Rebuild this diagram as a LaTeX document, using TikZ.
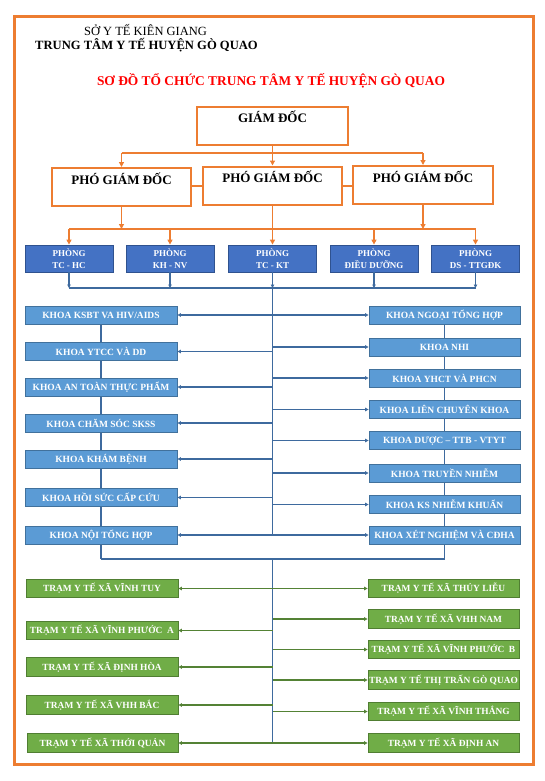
\documentclass[tikz,border=0pt]{standalone}
\usepackage{fontspec}
\setmainfont{Liberation Serif}
\usetikzlibrary{arrows.meta,backgrounds}
\definecolor{org}{HTML}{ED7D31}
\definecolor{phfill}{HTML}{4472C4}
\definecolor{phline}{HTML}{2F528F}
\definecolor{khfill}{HTML}{5B9BD5}
\definecolor{khline}{HTML}{41719C}
\definecolor{trfill}{HTML}{70AD47}
\definecolor{trline}{HTML}{507E32}
\definecolor{bl}{HTML}{3E6A9E}
\definecolor{gr}{HTML}{548235}
\definecolor{titlered}{HTML}{FF0000}
\begin{document}
\begin{tikzpicture}[x=1pt,y=-1pt,
  obox/.style={draw=org, line width=2pt, fill=white, font=\bfseries\fontsize{13}{15}\selectfont,
    inner xsep=0pt, inner ysep=0pt, text height=16pt, text depth=22pt, anchor=base},
  phbox/.style={draw=phline, line width=0.8pt, fill=phfill, text=white, align=center,
    font=\bfseries\fontsize{9}{12}\selectfont, inner sep=0pt, minimum width=88pt, minimum height=27pt},
  kbox/.style={draw=khline, line width=0.8pt, fill=khfill, text=white,
    font=\bfseries\fontsize{9.5}{11}\selectfont, inner sep=0pt, minimum height=18pt},
  kl/.style={kbox, minimum width=152pt},
  kr/.style={kbox, minimum width=151pt},
  tbox/.style={draw=trline, line width=0.8pt, fill=trfill, text=white,
    font=\bfseries\fontsize{9.4}{11}\selectfont, inner sep=0pt, minimum height=18.5pt},
  tl/.style={tbox, minimum width=152pt},
  tr/.style={tbox, minimum width=151pt},
  oline/.style={draw=org, line width=1.6pt},
  oarr/.style={oline, -{Triangle[length=5pt,width=5pt]}},
  bline/.style={draw=bl, line width=1.2pt},
  barr/.style={bline, -{Triangle[length=3.5pt,width=3.5pt]}},
  bdarr/.style={bline, {Triangle[length=3.5pt,width=3.5pt]}-{Triangle[length=3.5pt,width=3.5pt]}},
  garr/.style={draw=gr, line width=1.2pt, -{Triangle[length=3.5pt,width=3.5pt]}},
  gdarr/.style={draw=gr, line width=1.2pt, {Triangle[length=3.5pt,width=3.5pt]}-{Triangle[length=3.5pt,width=3.5pt]}},
]
\useasboundingbox (0,0) rectangle (545,781);
\draw[org, line width=3pt] (14,17) rectangle (533,764);

% header
\node[font=\fontsize{12.5}{14}\selectfont] (h1) at (145.5,30) {SỞ Y TẾ KIÊN GIANG};
\node[font=\bfseries\fontsize{12.6}{14}\selectfont] (h2) at (146.5,45) {TRUNG TÂM Y TẾ HUYỆN GÒ QUAO};
\node[font=\bfseries\fontsize{13.4}{15}\selectfont, text=titlered] (title) at (271,81) {SƠ ĐỒ TỔ CHỨC TRUNG TÂM Y TẾ HUYỆN GÒ QUAO};

% directors
\node[obox, minimum width=151pt] (gd) at (272.5,123) {GIÁM ĐỐC};
\node[obox, minimum width=139pt] (p1) at (121.5,184) {PHÓ GIÁM ĐỐC};
\node[obox, minimum width=139pt] (p2) at (272.5,182.5) {PHÓ GIÁM ĐỐC};
\node[obox, minimum width=140pt] (p3) at (423,182) {PHÓ GIÁM ĐỐC};

% phong
\node[phbox] (ph1) at (69,258.5) {PHÒNG\\TC - HC};
\node[phbox] (ph2) at (170,258.5) {PHÒNG\\KH - NV};
\node[phbox] (ph3) at (272.5,258.5) {PHÒNG\\TC - KT};
\node[phbox] (ph4) at (374,258.5) {PHÒNG\\ĐIỀU DƯỠNG};
\node[phbox] (ph5) at (475.5,258.5) {PHÒNG\\DS - TTGĐK};

% coordinates
\coordinate (o1) at (272.5,153);
\coordinate (o2) at (272.5,229);
\coordinate (sp) at (272.5,288);
\coordinate (spend) at (272.5,535);
\coordinate (sp2) at (272.5,559);
\coordinate (sp2end) at (272.5,743);

% orange connectors
\draw[oline] (gd.south) -- (o1);
\draw[oline] (p1.north |- o1) -- (p3.north |- o1);
\draw[oarr] (p1.north |- o1) -- (p1.north);
\draw[oarr] (o1) -- (p2.north);
\draw[oarr] (p3.north |- o1) -- (p3.north);
\draw[oline] (p1.east |- 0,186) -- (p2.west |- 0,186);
\draw[oline] (p2.east |- 0,186) -- (p3.west |- 0,186);
\draw[oarr] (p1.south) -- (p1.south |- o2);
\draw[oarr] (p3.south) -- (p3.south |- o2);
\draw[oarr] (p2.south) -- (ph3.north);
\draw[oline] (ph1.north |- o2) -- (ph5.north |- o2);
\draw[oarr] (ph1.north |- o2) -- (ph1.north);
\draw[oarr] (ph2.north |- o2) -- (ph2.north);
\draw[oarr] (ph4.north |- o2) -- (ph4.north);
\draw[oarr] (ph5.north |- o2) -- (ph5.north);

% khoa
\node[kl] (kl1) at (101,315) {KHOA KSBT VA HIV/AIDS};
\node[kl] (kl2) at (101,351.5) {KHOA YTCC VÀ DD};
\node[kl] (kl3) at (101,387) {KHOA AN TOÀN THỰC PHẨM};
\node[kl] (kl4) at (101,423) {KHOA CHĂM SÓC SKSS};
\node[kl] (kl5) at (101,459) {KHOA KHÁM BỆNH};
\node[kl] (kl6) at (101,497.5) {KHOA HỒI SỨC CẤP CỨU};
\node[kl] (kl7) at (101,535) {KHOA NỘI TỔNG HỢP};
\node[kr] (kr1) at (444.5,315) {KHOA NGOẠI TỔNG HỢP};
\node[kr] (kr2) at (444.5,347) {KHOA NHI};
\node[kr] (kr3) at (444.5,378) {KHOA YHCT VÀ PHCN};
\node[kr] (kr4) at (444.5,409.5) {KHOA LIÊN CHUYÊN KHOA};
\node[kr] (kr5) at (444.5,440.5) {KHOA DƯỢC – TTB - VTYT};
\node[kr] (kr6) at (444.5,473) {KHOA TRUYỀN NHIỄM};
\node[kr] (kr7) at (444.5,504.5) {KHOA KS NHIỄM KHUẨN};
\node[kr] (kr8) at (444.5,535) {KHOA XÉT NGHIỆM VÀ CĐHA};

% tram
\node[tl] (tl1) at (102,588.5) {TRẠM Y TẾ XÃ VĨNH TUY};
\node[tl] (tl2) at (102,630.5) {TRẠM Y TẾ XÃ VĨNH PHƯỚC~~A};
\node[tl] (tl3) at (102,667) {TRẠM Y TẾ XÃ ĐỊNH HÒA};
\node[tl] (tl4) at (102,705) {TRẠM Y TẾ XÃ VHH BẮC};
\node[tl, minimum width=151pt] (tl5) at (102.5,743) {TRẠM Y TẾ XÃ THỚI QUẢN};
\node[tr] (tr1) at (443.5,588.5) {TRẠM Y TẾ XÃ THỦY LIỄU};
\node[tr] (tr2) at (443.5,619) {TRẠM Y TẾ XÃ VHH NAM};
\node[tr] (tr3) at (443.5,649.5) {TRẠM Y TẾ XÃ VĨNH PHƯỚC~~B};
\node[tr] (tr4) at (443.5,680) {TRẠM Y TẾ THỊ TRẤN GÒ QUAO};
\node[tr] (tr5) at (443.5,711.5) {TRẠM Y TẾ XÃ VĨNH THẮNG};
\node[tr] (tr6) at (443.5,743) {TRẠM Y TẾ XÃ ĐỊNH AN};

% column lines behind the boxes
\begin{scope}[on background layer]
\draw[bline] (kl1.center) -- (kl1.center |- sp2);
\draw[bline] (kr1.center) -- (kr1.center |- sp2);
\end{scope}

% blue connectors below phong
\foreach \p in {ph1,ph2,ph3,ph4,ph5} {\draw[barr] (\p.south) -- (\p.south |- sp);}
\draw[bline] (ph1.south |- sp) -- (ph5.south |- sp);
\draw[bline] (sp) -- (spend);
\draw[bline] (sp2) -- (sp2end);
\draw[bline] (kl1.center |- sp2) -- (kr1.center |- sp2);

% khoa arrows
\draw[bdarr] (kl1.east) -- (kr1.west);
\draw[bdarr] (kl7.east) -- (kr8.west);
\foreach \k in {kl2,kl3,kl4,kl5,kl6} {\draw[barr] (\k.east -| sp) -- (\k.east);}
\foreach \k in {kr2,kr3,kr4,kr5,kr6,kr7} {\draw[barr] (\k.west -| sp) -- (\k.west);}

% tram arrows
\draw[gdarr] (tl1.east) -- (tr1.west);
\draw[gdarr] (tl5.east) -- (tr6.west);
\foreach \k in {tl2,tl3,tl4} {\draw[garr] (\k.east -| sp) -- (\k.east);}
\foreach \k in {tr2,tr3,tr4,tr5} {\draw[garr] (\k.west -| sp) -- (\k.west);}
\end{tikzpicture}
\end{document}
